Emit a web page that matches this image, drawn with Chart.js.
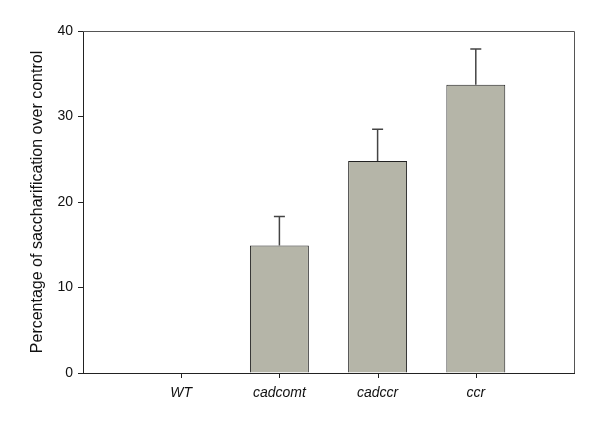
<!DOCTYPE html>
<html>
<head>
<meta charset="utf-8">
<script src="https://cdn.jsdelivr.net/npm/chart.js@4.4.1/dist/chart.umd.min.js"></script>
<style>
  html, body { margin: 0; padding: 0; background: #fff; }
  #wrap { width: 600px; height: 427px; }
</style>
</head>
<body>
<div id="wrap"><canvas id="chart" width="600" height="427"></canvas></div>
<script>
// Data
const categories = ['WT', 'cadcomt', 'cadccr', 'ccr'];
const values = [0, 14.9, 24.8, 33.7];
const errors = [0, 3.4, 3.7, 4.2];
const yTicks = [0, 10, 20, 30, 40];

// pad one empty slot at each side so the bars sit like the original
const labels = [''].concat(categories, ['']);
const barData = [null].concat(values, [null]);
const errData = [null].concat(errors, [null]);

// frame on top and right, x tick marks, upper error bars
const framePlugin = {
  id: 'frame',
  afterDraw(chart) {
    const { ctx, chartArea: a, scales } = chart;
    ctx.save();
    ctx.strokeStyle = '#555';
    ctx.lineWidth = 1;
    ctx.beginPath();
    ctx.moveTo(a.left, a.top + 0.5);
    ctx.lineTo(a.right + 0.5, a.top + 0.5);
    ctx.lineTo(a.right + 0.5, a.bottom);
    ctx.stroke();

    ctx.strokeStyle = '#222';
    ctx.beginPath();
    labels.forEach((l, i) => {
      if (!l) return;
      const x = Math.round(scales.x.getPixelForValue(i)) + 0.5;
      ctx.moveTo(x, a.bottom);
      ctx.lineTo(x, a.bottom + 5);
    });
    ctx.stroke();

    ctx.strokeStyle = '#444';
    ctx.lineWidth = 1.5;
    barData.forEach((v, i) => {
      if (v === null || !errData[i]) return;
      const x = scales.x.getPixelForValue(i);
      const y0 = scales.y.getPixelForValue(v);
      const y1 = scales.y.getPixelForValue(v + errData[i]);
      ctx.beginPath();
      ctx.moveTo(x, y0);
      ctx.lineTo(x, y1);
      ctx.moveTo(x - 5.5, y1);
      ctx.lineTo(x + 5.5, y1);
      ctx.stroke();
    });
    ctx.restore();
  }
};

new Chart(document.getElementById('chart').getContext('2d'), {
  type: 'bar',
  data: {
    labels: labels,
    datasets: [{
      data: barData,
      backgroundColor: '#b5b5a8',
      borderColor: '#222',
      borderWidth: 1,
      borderSkipped: 'bottom',
      barPercentage: 0.6,
      categoryPercentage: 1
    }]
  },
  options: {
    responsive: false,
    animation: false,
    layout: { padding: { left: 0, right: 26, top: 31, bottom: 0 } },
    plugins: { legend: { display: false }, tooltip: { enabled: false } },
    scales: {
      x: {
        offset: false,
        afterFit: s => { s.height = 54; },
        border: { color: '#222', width: 1 },
        grid: {
          offset: false,
          drawOnChartArea: false,
          tickLength: 5,
          tickColor: 'rgba(0,0,0,0)'
        },
        ticks: {
          color: '#111',
          padding: 7,
          maxRotation: 0,
          autoSkip: false,
          font: { family: 'Liberation Sans, Arial', size: 14, style: 'italic' }
        }
      },
      y: {
        min: 0,
        max: 40,
        afterFit: s => { s.width = 83; },
        afterBuildTicks: s => { s.ticks = yTicks.map(v => ({ value: v })); },
        border: { color: '#222', width: 1 },
        grid: { drawOnChartArea: false, tickLength: 5, tickColor: '#222' },
        ticks: {
          color: '#111',
          padding: 5,
          font: { family: 'Liberation Sans, Arial', size: 14 }
        },
        title: {
          display: true,
          text: 'Percentage of saccharification over control',
          color: '#111',
          padding: { top: 28, bottom: 0 },
          font: { family: 'Liberation Sans, Arial', size: 16 }
        }
      }
    }
  },
  plugins: [framePlugin]
});
</script>
</body>
</html>
